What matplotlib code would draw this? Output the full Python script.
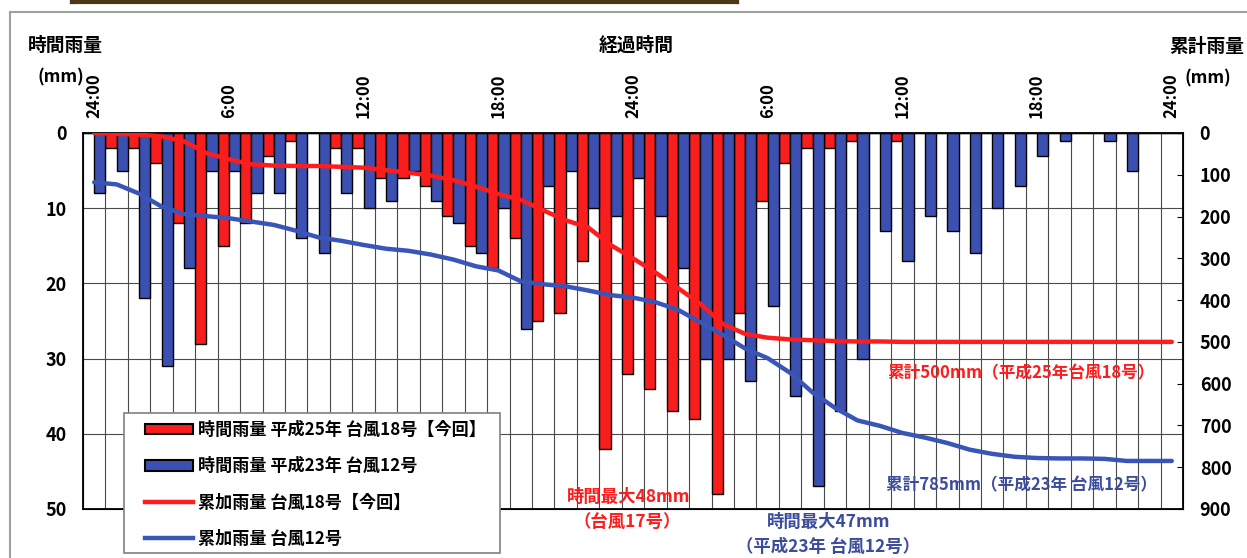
import numpy as np
import matplotlib.pyplot as plt
from matplotlib.patches import Patch, Rectangle
from matplotlib.lines import Line2D

plt.rcParams['font.family'] = ['Noto Sans CJK JP', 'DejaVu Sans']
plt.rcParams['font.weight'] = 'bold'

# hourly rain (mm), one slot per hour from 24:00 to 24:00 two days later
rain_t18 = [0, 2, 2, 4, 12, 28, 15, 12, 3, 1, 0, 2, 2, 6, 6, 7, 11, 15, 18, 14,
            25, 24, 17, 42, 32, 34, 37, 38, 48, 24, 9, 4, 2, 2, 1, 0, 1, 0, 0, 0,
            0, 0, 0, 0, 0, 0, 0, 0, 0]
rain_t12 = [8, 5, 22, 31, 18, 5, 5, 8, 8, 14, 16, 8, 10, 9, 5, 9, 12, 16, 10, 26,
            7, 5, 10, 11, 6, 11, 18, 30, 30, 33, 23, 35, 47, 37, 30, 13, 17, 11, 13, 16,
            10, 7, 3, 1, 0, 1, 5, 0, 0]
# accumulated rain (mm)
cum_t18 = [0, 2, 4, 8, 20, 48, 63, 75, 78, 79, 79, 81, 83, 89, 95, 102, 113, 128, 146, 160,
           185, 209, 226, 268, 300, 334, 371, 409, 457, 481, 490, 494, 496, 498, 499, 499, 500, 500, 500, 500,
           500, 500, 500, 500, 500, 500, 500, 500, 500]
cum_t12 = [118, 123, 145, 176, 194, 199, 204, 212, 220, 234, 250, 258, 268, 277, 282, 291, 303, 319, 329, 355,
           362, 367, 377, 388, 394, 405, 423, 453, 483, 516, 539, 574, 621, 658, 688, 701, 718, 729, 742, 758,
           768, 775, 778, 779, 779, 780, 785, 785, 785]
tick_pos = [0, 6, 12, 18, 24, 30, 36, 42, 48]
tick_labels = ['24:00', '6:00', '12:00', '18:00', '24:00', '6:00', '12:00', '18:00', '24:00']

RED = '#f81e1e'
BLUE = '#3b50b0'
RED_LINE = '#ff1c1c'
BLUE_LINE = '#3a55b8'
BLUE_TXT = '#3c4c9c'

W, H = 1247, 558
fig = plt.figure(figsize=(W / 100, H / 100), dpi=100)
ax = fig.add_axes([83 / W, 1 - 509 / H, 1100 / W, 376 / H])

x = np.arange(len(rain_t18))
ax.bar(x - 0.25, rain_t18, width=0.5, color=RED, edgecolor='black', linewidth=1.0, zorder=3)
ax.bar(x + 0.25, rain_t12, width=0.5, color=BLUE, edgecolor='black', linewidth=1.0, zorder=3)
ax.set_xlim(-0.5, len(x) - 0.5)
ax.set_ylim(50, 0)
ax.set_axisbelow(True)

ax.xaxis.set_ticks_position('top')
ax.set_xticks(tick_pos)
ax.set_xticklabels(tick_labels, rotation=90, fontsize=12)
ax.set_xticks(np.arange(0.5, len(x) - 1, 1), minor=True)
ax.tick_params(axis='x', which='both', length=0, pad=11)
ax.grid(axis='x', which='minor', color='#4a4a4a', linewidth=0.8)

ax.set_yticks(np.arange(0, 51, 10))
ax.tick_params(axis='y', length=0, pad=12, labelsize=13)
ax.grid(axis='y', which='major', color='#4a4a4a', linewidth=0.8)
for s in ax.spines.values():
    s.set_color('black')
    s.set_linewidth(1.3)

ax2 = ax.twinx()
ax2.plot(x, cum_t18, color=RED_LINE, lw=3.2, solid_capstyle='round', zorder=4)
ax2.plot(x, cum_t12, color=BLUE_LINE, lw=3.2, solid_capstyle='round', zorder=4)
ax2.set_ylim(900, 0)
ax2.set_yticks(np.arange(0, 901, 100))
ax2.tick_params(axis='y', direction='in', length=4, pad=12, labelsize=13)

# legend box, drawn separately so it can have wider side padding
box = Rectangle((124 / W, 1 - 553 / H), 376 / W, 140 / H, transform=fig.transFigure,
                facecolor='white', edgecolor='#808080', linewidth=1.2, clip_on=False, zorder=9)
ax2.add_artist(box)

handles = [Patch(facecolor=RED, edgecolor='black', linewidth=1.5),
           Patch(facecolor=BLUE, edgecolor='black', linewidth=1.5),
           Line2D([], [], color=RED_LINE, lw=3.2),
           Line2D([], [], color=BLUE_LINE, lw=3.2)]
labels = ['時間雨量 平成25年 台風18号【今回】', '時間雨量 平成23年 台風12号',
          '累加雨量 台風18号【今回】', '累加雨量 台風12号']
leg = ax2.legend(handles, labels, loc='upper left', bbox_to_anchor=(145 / W, 1 - 421 / H),
                 bbox_transform=fig.transFigure, fontsize=12.3, frameon=False,
                 handlelength=2.8, handleheight=0.6, handletextpad=0.3,
                 labelspacing=1.07, borderpad=0, borderaxespad=0)
leg.set_zorder(10)

def ftext(px, py, s, **kw):
    fig.text(px / W, 1 - py / H, s, **kw)

ftext(65, 45, '時間雨量', fontsize=13.5, ha='center', va='center')
ftext(61, 77, '(mm)', fontsize=12.5, ha='center', va='center')
ftext(636, 45, '経過時間', fontsize=13.5, ha='center', va='center')
ftext(1207, 47, '累計雨量', fontsize=13.5, ha='center', va='center')
ftext(1208, 78, '(mm)', fontsize=12.5, ha='center', va='center')

ftext(1021, 373, '累計500mm（平成25年台風18号）', color=RED_LINE, fontsize=12, ha='center', va='center')
ftext(1021, 485, '累計785mm（平成23年 台風12号）', color=BLUE_TXT, fontsize=12, ha='center', va='center')
ftext(629, 497, '時間最大48mm', color=RED_LINE, fontsize=12.5, ha='center', va='center')
ftext(627, 522, '（台風17号）', color=RED_LINE, fontsize=12.5, ha='center', va='center')
ftext(829, 522, '時間最大47mm', color=BLUE_TXT, fontsize=12.5, ha='center', va='center')
ftext(828, 547, '（平成23年 台風12号）', color=BLUE_TXT, fontsize=12.5, ha='center', va='center')

# outer frame and the bottom edge of the title box above
fig.add_artist(Line2D([10 / W, 10 / W], [1 - 12 / H, 0], transform=fig.transFigure, color='#a0a0a0', lw=1.5))
fig.add_artist(Line2D([10 / W, 1], [1 - 12 / H, 1 - 12 / H], transform=fig.transFigure, color='#a0a0a0', lw=1.5))
fig.add_artist(Line2D([72 / W, 737 / W], [1 - 1.5 / H, 1 - 1.5 / H], transform=fig.transFigure, color='#4a3818', lw=3))
fig.add_artist(Line2D([72 / W, 72 / W], [1 - 1.5 / H, 1], transform=fig.transFigure, color='#4a3818', lw=3))
fig.add_artist(Line2D([737 / W, 737 / W], [1 - 1.5 / H, 1], transform=fig.transFigure, color='#4a3818', lw=3))

fig.savefig('out.png', dpi=100)
